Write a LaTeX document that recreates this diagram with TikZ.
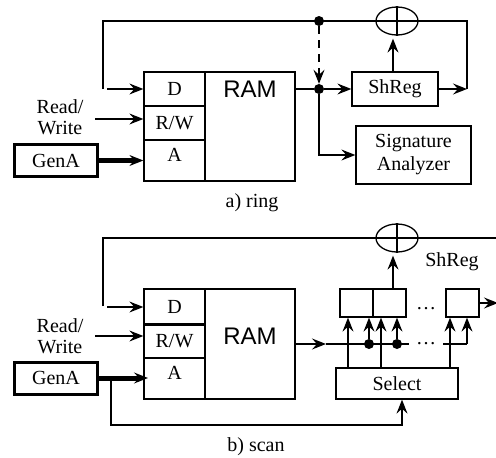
\documentclass[tikz,border=0pt]{standalone}
\usepackage{fontspec}
\setmainfont{Liberation Serif}
\setsansfont{Liberation Sans}
\usetikzlibrary{arrows.meta,shapes.geometric}
\tikzset{
    wire/.style={line width=1.3pt},
    bus/.style={line width=5pt},
    box/.style={draw, line width=1.3pt, inner sep=0pt},
    genbox/.style={box, line width=3pt, minimum width=83, minimum height=32},
    xorgate/.style={draw, ellipse, line width=1.3pt, inner sep=0pt, minimum width=42, minimum height=28},
    dot/.style={circle, fill=black, inner sep=0pt, minimum size=10},
    ramlabel/.style={font=\fontsize{24}{26}\selectfont\sffamily}
}
\begin{document}
\begin{tikzpicture}[>={Stealth[length=14pt,width=11pt,inset=5pt]}, x=1pt, y=-1pt, font=\fontsize{20}{21}\selectfont]
    \useasboundingbox (0,0) rectangle (496,458);

    % a) ring: memory block
    \node[box, minimum width=61, minimum height=34] (dA) at (174.5,89) {D};
    \node[box, minimum width=61, minimum height=34] (rwA) at (174.5,123) {R/W};
    \node[box, minimum width=61, minimum height=41] (addrA) at (174.5,160.5) {};
    \node at (174.5,155) {A};
    \node[box, minimum width=90, minimum height=109] (ramA) at (250,126.5) {};
    \node[ramlabel] at (250,89) {RAM};
    \node[align=center] (rdA) at (60,117) {Read/\\Write};
    \node[genbox] (genA) at (56,160.5) {GenA};

    % a) ring: register and analyzer
    \node[box, minimum width=86, minimum height=34] (shregA) at (395,89) {ShReg};
    \node[box, minimum width=115, minimum height=58, align=center] (sigA) at (413.5,155) {Signature\\[2pt]Analyzer};
    \node[xorgate] (xorA) at (397,21) {};
    \node[dot] (topA) at (319,21) {};
    \node[dot] (midA) at (319,89) {};

    % a) ring: free ends
    \coordinate (fbstartA) at (103,89);
    \coordinate (dstartA) at (107,89);
    \coordinate (rwstartA) at (95,119);
    \coordinate (fbendA) at (467,89);

    % a) ring: connectors
    \draw[wire] (fbstartA) |- (xorA.west);
    \draw[wire] (xorA.west) -- (xorA.east) -| (fbendA);
    \draw[wire] (xorA.north) -- (xorA.south);
    \draw[wire, ->] (dstartA) -- (dA.west);
    \draw[wire, ->] (rwstartA) -- (rwA.west |- rwstartA);
    \draw[bus, shorten >=9pt] (genA.east) -- (addrA.west);
    \draw[wire, ->] (genA.east) -- (addrA.west);
    \draw[wire] (ramA.east |- midA) -- (midA);
    \draw[wire, ->] (midA) -- (shregA.west);
    \draw[wire, ->] (midA) |- (sigA.west);
    \draw[wire, ->] (shregA.east) -- (fbendA);
    \draw[wire, ->, dash pattern=on 8pt off 6pt] (topA) -- (midA);
    \draw[wire, ->, shorten >=3pt] ([xshift=-2]shregA.north) -- ([xshift=-4]xorA.south);
    \node (capA) at (252,203) {a) ring};

    % b) scan: memory block
    \node[box, minimum width=61, minimum height=36] (dB) at (174.5,307) {D};
    \node[box, minimum width=61, minimum height=34] (rwB) at (174.5,341) {R/W};
    \node[box, minimum width=61, minimum height=41] (addrB) at (174.5,378.5) {};
    \node at (174.5,373) {A};
    \node[box, minimum width=90, minimum height=110] (ramB) at (250,344) {};
    \node[ramlabel] at (250,336) {RAM};
    \node[align=center] (rdB) at (60,336) {Read/\\Write};
    \node[genbox] (genB) at (56,378) {GenA};

    % b) scan: scan register
    \node[xorgate] (xorB) at (397,238) {};
    \node[box, minimum width=33, minimum height=28] (regone) at (356.5,303) {};
    \node[box, minimum width=33, minimum height=28] (regtwo) at (389.5,303) {};
    \node[box, minimum width=33, minimum height=28] (regthree) at (462.5,303) {};
    \node[box, minimum width=122, minimum height=31] (select) at (397,383.5) {Select};
    \node (shregB) at (452,262) {ShReg};
    \node[anchor=base] (dotsup) at (426,309) {…};
    \node[anchor=base] (dotsdown) at (426,344) {…};
    \node[dot] (tapone) at (369,344) {};
    \node[dot] (taptwo) at (397,344) {};

    % b) scan: free ends
    \coordinate (fbstartB) at (103,306);
    \coordinate (dstartB) at (107,307);
    \coordinate (rwstartB) at (95,336);
    \coordinate (fbendB) at (496,238);
    \coordinate (outB) at (498,303);
    \coordinate (busend) at (409,344);
    \coordinate (busagain) at (443,344);
    \coordinate (buscorner) at (467,344);
    \coordinate (midtip) at (326,344);
    \coordinate (branch) at (111,378);
    \coordinate (addrtip) at (148,378);
    \coordinate (selectin) at (402,425);

    % b) scan: connectors
    \draw[wire] (fbstartB) |- (xorB.west);
    \draw[wire] (xorB.west) -- (fbendB);
    \draw[wire] (xorB.north) -- (xorB.south);
    \draw[wire, ->] (dstartB) -- (dB.west);
    \draw[wire, ->] (rwstartB) -- (rwB.west |- rwstartB);
    \draw[bus, shorten >=9pt] (genB.east) -- (addrtip);
    \draw[wire, ->] (genB.east) -- (addrtip);
    \draw[wire, ->] (branch) |- (selectin) -- (selectin |- select.south);
    \draw[wire, ->] (ramB.east |- midtip) -- (midtip);
    \draw[wire] (midtip) -- (busend);
    \draw[wire] (busagain) -- (buscorner);
    \draw[wire, ->] (buscorner) -- (buscorner |- regthree.south);
    \draw[wire, ->] (tapone) -- (tapone |- regone.south);
    \draw[wire, ->] (taptwo) -- (taptwo |- regtwo.south);
    \draw[wire, ->] ([xshift=-49]select.north) -- ([xshift=-49]select.north |- regone.south);
    \draw[wire, ->] ([xshift=-16]select.north) -- ([xshift=-16]select.north |- regtwo.south);
    \draw[wire, ->] ([xshift=53]select.north) -- ([xshift=53]select.north |- regthree.south);
    \draw[wire, ->] (regthree.east) -- (outB);
    \draw[wire, ->, shorten >=3pt] ([xshift=3.5]regtwo.north) -- ([xshift=-4]xorB.south);
    \node (capB) at (256,447) {b) scan};
\end{tikzpicture}
\end{document}
